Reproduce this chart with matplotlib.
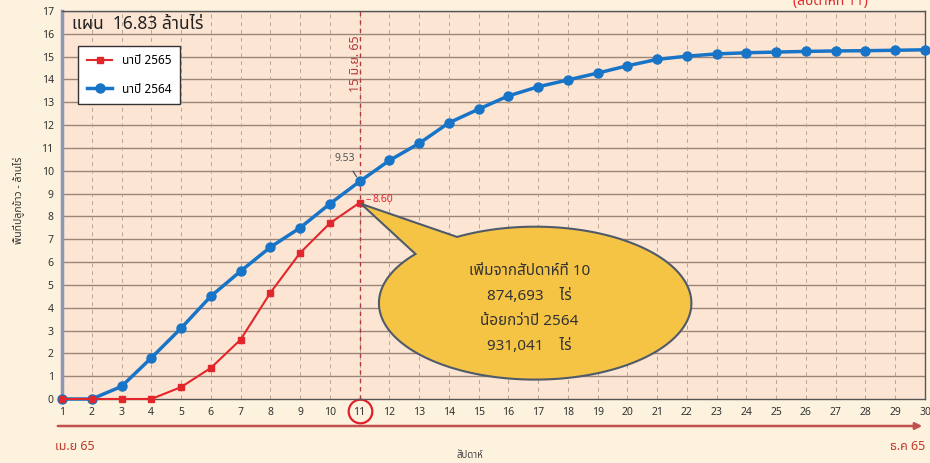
import numpy as np
import matplotlib
matplotlib.use("Agg")
import matplotlib.pyplot as plt
from matplotlib.patches import Polygon
from matplotlib.transforms import blended_transform_factory

plt.rcParams['font.family'] = ['Noto Sans Thai', 'Loma', 'Garuda', 'Tlwg Typo', 'Norasi',
                               'Noto Sans', 'DejaVu Sans']

# ---- DATA ----
weeks = list(range(1, 31))
rice_2564 = [0, 0, 0.55, 1.8, 3.1, 4.5, 5.6, 6.65, 7.5, 8.55,
             9.53, 10.45, 11.2, 12.1, 12.7, 13.28, 13.68, 13.98, 14.28, 14.6,
             14.88, 15.02, 15.12, 15.17, 15.2, 15.23, 15.25, 15.26, 15.28, 15.3]
weeks_2565 = list(range(1, 12))
rice_2565 = [0, 0, 0, 0, 0.52, 1.36, 2.6, 4.65, 6.4, 7.7, 8.60]
legend_labels = ["นาปี 2565", "นาปี 2564"]
y_ticks = list(range(0, 18))

# ---- FIGURE ----
fig = plt.figure(figsize=(9.3, 4.63), dpi=100)
fig.patch.set_facecolor('#fdf2de')
ax = fig.add_axes([62 / 930, 64 / 463, 863 / 930, 388 / 463])
ax.set_facecolor('#fde5d4')

ax.set_xlim(1, 30)
ax.set_ylim(0, 17)
ax.set_xticks(weeks)
ax.set_yticks(y_ticks)
ax.tick_params(length=0, labelsize=7.5, colors='#333333', pad=6)

# grid
for y in y_ticks[1:]:
    ax.axhline(y, color='#9a8576', lw=1.0, zorder=1)
for x in weeks[1:-1]:
    ax.axvline(x, color='#b9a594', lw=0.7, ls=(0, (4, 4)), zorder=1)

for side in ['top', 'right', 'bottom']:
    ax.spines[side].set_color('#555555')
    ax.spines[side].set_linewidth(1.0)
ax.spines['left'].set_color('#8e97b8')
ax.spines['left'].set_linewidth(2.5)

# week 11 marker line
ax.axvline(11, color='#b03a3a', lw=1.0, ls=(0, (3, 3)), zorder=2)
ax.text(10.85, 14.7, "15 มิ.ย. 65", rotation=90, color='#b03a3a', fontsize=9,
        ha='center', va='center')

# ---- SERIES ----
l1, = ax.plot(weeks_2565, rice_2565, color='#e3262b', lw=1.5, marker='s', ms=5,
              zorder=4, clip_on=False)
l2, = ax.plot(weeks, rice_2564, color='#1874c6', lw=2.5, marker='o', ms=6.5,
              zorder=3, clip_on=False)

# value labels
ax.annotate("9.53", xy=(11, rice_2564[10]), xytext=(10.5, 10.55),
            color='#555555', fontsize=7.5, ha='center', va='center',
            arrowprops=dict(arrowstyle='-', color='#444444', lw=0.8,
                            shrinkA=4, shrinkB=4))
ax.text(11.2, 8.75, "–", color='#e3262b', fontsize=7.5, va='center')
ax.text(11.45, 8.75, "8.60", color='#e3262b', fontsize=7.5, va='center')

# title inside plot
ax.text(0.012, 0.99, "แผน  16.83 ล้านไร่", transform=ax.transAxes,
        fontsize=12.5, color='#222222', ha='left', va='top')

leg = ax.legend([l1, l2], legend_labels, loc='upper left',
                bbox_to_anchor=(0.012, 0.925), fontsize=8.5, frameon=True,
                fancybox=False, edgecolor='#333333', labelspacing=1.3,
                handlelength=2.2, borderpad=0.7)
leg.get_frame().set_linewidth(1.0)
leg.get_frame().set_facecolor('white')
leg.get_frame().set_alpha(1)

# ---- CALLOUT ----
cx, cy, a, b = 16.9, 4.2, 5.25, 3.35
th = np.radians(np.linspace(140, 480, 200))
pts = np.column_stack([cx + a * np.cos(th), cy + b * np.sin(th)])
pts = np.vstack([pts, [[11.05, 8.55]]])
ax.add_patch(Polygon(pts, closed=True, facecolor='#f6c445', edgecolor='#4f5a6a',
                     lw=1.5, zorder=5))
callout_lines = ["เพิ่มจากสัปดาห์ที่ 10", "874,693    ไร่", "น้อยกว่าปี 2564", "931,041    ไร่"]
for i, s in enumerate(callout_lines):
    ax.text(cx - 0.2, 5.6 - i * 1.1, s, fontsize=11, color='#333333',
            ha='center', va='center', zorder=6)

# circle around week 11 tick
bt = blended_transform_factory(ax.transData, ax.transAxes)
ax.plot([11], [-0.032], transform=bt, marker='o', ms=17, mfc='none',
        mec='#e0202a', mew=1.6, clip_on=False)

# ---- AXIS TEXT ----
fig.text(18 / 930, 1 - 200 / 463, "พื้นที่ปลูกข้าว - ล้านไร่", rotation=90,
         fontsize=7.5, fontweight='bold', color='#333333', ha='center', va='center')

ax.annotate("", xy=(925 / 930, 1 - 426 / 463), xytext=(55 / 930, 1 - 426 / 463),
            xycoords='figure fraction', textcoords='figure fraction',
            arrowprops=dict(arrowstyle='-|>', color='#c0504d', lw=1.8,
                            mutation_scale=10))
fig.text(55 / 930, 1 - 447 / 463, "เม.ย 65", color='#c0392b', fontsize=9,
         ha='left', va='center')
fig.text(925 / 930, 1 - 447 / 463, "ธ.ค 65", color='#c0392b', fontsize=9,
         ha='right', va='center')
fig.text(470 / 930, 1 - 455 / 463, "สัปดาห์", color='#444444', fontsize=7,
         ha='center', va='center')
fig.text(830 / 930, 1 - 1 / 463, "(สัปดาห์ที่ 11)", color='#e3262b', fontsize=10,
         ha='center', va='center')

fig.savefig("out.png", dpi=100, facecolor=fig.get_facecolor())
